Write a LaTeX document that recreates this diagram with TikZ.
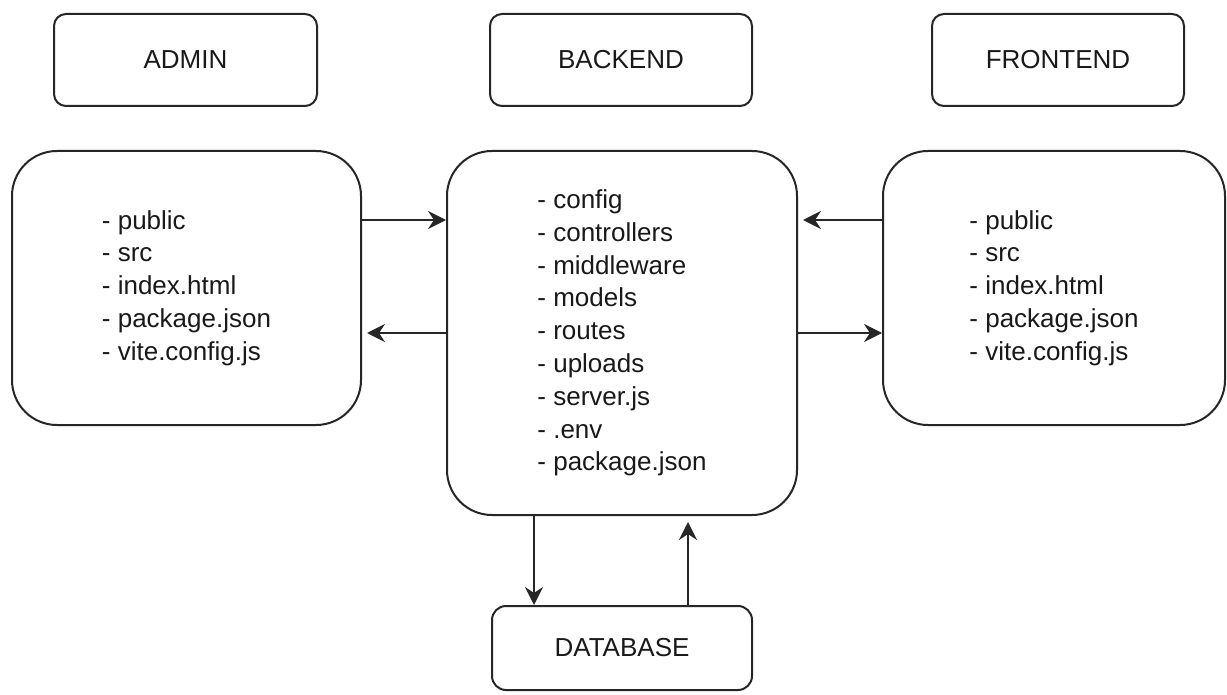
\documentclass[tikz,border=0pt]{standalone}
\usepackage{fontspec}
\setmainfont{Liberation Sans}
\usetikzlibrary{arrows.meta}
\begin{document}
\begin{tikzpicture}[x=1pt,y=-1pt,
  every node/.style={font=\fontsize{26}{32.8}\selectfont, text=black!90},
  titlebox/.style={draw=black!85, line width=2pt, rounded corners=12pt, minimum height=92pt, inner sep=0pt},
  listbox/.style={draw=black!85, line width=2pt, rounded corners=45pt, align=left, inner sep=0pt},
  dbbox/.style={draw=black!85, line width=2pt, rounded corners=14pt, minimum width=260pt, minimum height=84pt, inner sep=0pt},
  arr/.style={draw=black!85, line width=2pt, -{Stealth[length=18pt,width=18pt,inset=6pt]}}
]
\useasboundingbox (0,0) rectangle (1227,695);
\fill[white] (0,0) rectangle (1227,695);

\node[titlebox, minimum width=263pt] (admin) at (185.5,60) {ADMIN};
\node[titlebox, minimum width=262pt] (backendT) at (621,60) {BACKEND};
\node[titlebox, minimum width=252pt] (frontendT) at (1058,60) {FRONTEND};

\node[listbox, minimum width=349pt, minimum height=274pt] (adminbox) at (186.5,288)
  {- public\\- src\\- index.html\\- package.json\\- vite.config.js};
\node[listbox, minimum width=350pt, minimum height=364pt] (backend) at (622,333)
  {- config\\- controllers\\- middleware\\- models\\- routes\\- uploads\\- server.js\\- .env\\- package.json};
\node[listbox, minimum width=342pt, minimum height=274pt] (frontend) at (1054,288)
  {- public\\- src\\- index.html\\- package.json\\- vite.config.js};

\node[dbbox] (db) at (622,648) {DATABASE};

\coordinate (r1) at (0,220);
\coordinate (c1) at (534,0);
\coordinate (c2) at (688,0);

\draw[arr] (adminbox.east |- r1) -- (backend.west |- r1);
\draw[arr, shorten >=5pt] (backend.west) -- (adminbox.east |- backend.west);
\draw[arr, shorten >=5pt] (frontend.west |- r1) -- (backend.east |- r1);
\draw[arr] (backend.east) -- (frontend.west |- backend.east);
\draw[arr] (backend.south -| c1) -- (db.north -| c1);
\draw[arr, shorten >=6pt] (db.north -| c2) -- (backend.south -| c2);
\end{tikzpicture}
\end{document}
